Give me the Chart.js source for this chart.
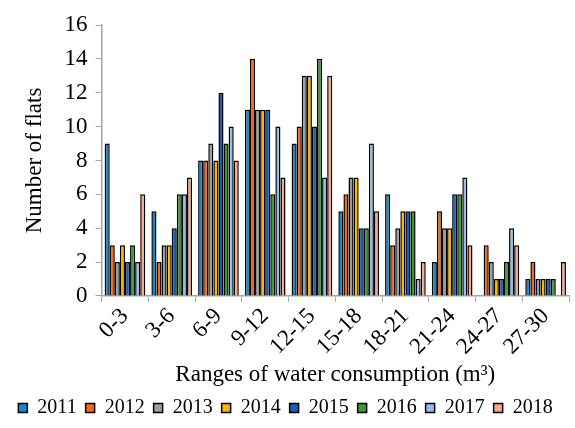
<!DOCTYPE html>
<html>
<head>
<meta charset="utf-8">
<script src="https://cdn.jsdelivr.net/npm/chart.js@4/dist/chart.umd.min.js"></script>
<style>
  html, body { margin: 0; padding: 0; background: #fff; }
  #wrap { width: 575px; height: 428px; }
</style>
</head>
<body>
<div id="wrap"><canvas id="chart" width="575" height="428"></canvas></div>
<script>
// categories (ranges of water consumption, m3)
const ranges = ['0-3', '3-6', '6-9', '9-12', '12-15', '15-18', '18-21', '21-24', '24-27', '27-30'];

// number of flats per year
const y2011 = [9, 5, 8, 11, 9, 5, 6, 2, 0, 1];
const y2012 = [3, 2, 8, 14, 10, 6, 3, 5, 3, 2];
const y2013 = [2, 3, 9, 11, 13, 7, 4, 4, 2, 1];
const y2014 = [3, 3, 8, 11, 13, 7, 5, 4, 1, 1];
const y2015 = [2, 4, 12, 11, 10, 4, 5, 6, 1, 1];
const y2016 = [3, 6, 9, 6, 14, 4, 5, 6, 2, 1];
const y2017 = [2, 6, 10, 10, 7, 9, 1, 7, 4, 0];
const y2018 = [6, 7, 8, 7, 13, 5, 2, 3, 3, 2];

const years = ['2011', '2012', '2013', '2014', '2015', '2016', '2017', '2018'];
const series = [y2011, y2012, y2013, y2014, y2015, y2016, y2017, y2018];
const colors = [
    '#1b86c4', // 2011
    '#f06a1c', // 2012
    '#9c9c9c', // 2013
    '#ffb300', // 2014
    '#1460b4', // 2015
    '#3a9a34', // 2016
    '#92bfe8', // 2017
    '#f9a98a'  // 2018
];

const serif = "'Liberation Serif', 'DejaVu Serif', serif";
const axisGrey = '#a6a6a6';

new Chart(document.getElementById('chart'), {
    type: 'bar',
    data: {
        labels: ranges,
        datasets: series.map((vals, i) => ({
            label: years[i],
            data: vals,
            backgroundColor: colors[i],
            borderColor: '#000',
            borderWidth: 1.5,
            borderSkipped: 'bottom',
            categoryPercentage: 0.87,
            barPercentage: 1.0
        }))
    },
    options: {
        responsive: false,
        animation: false,
        layout: { padding: { left: 2, right: 6, top: 25, bottom: 0 } },
        plugins: {
            legend: {
                position: 'bottom',
                labels: {
                    color: '#000',
                    font: { family: serif, size: 20 },
                    boxWidth: 9,
                    boxHeight: 9,
                    padding: 9
                }
            },
            tooltip: { enabled: false }
        },
        scales: {
            x: {
                grid: {
                    display: true,
                    offset: true,
                    drawOnChartArea: false,
                    color: axisGrey,
                    tickLength: 6
                },
                border: { color: axisGrey, width: 1.5 },
                ticks: {
                    color: '#000',
                    font: { family: serif, size: 23 },
                    minRotation: 45,
                    maxRotation: 45,
                    autoSkip: false,
                    padding: 1
                },
                title: {
                    display: true,
                    text: 'Ranges of water consumption (m³)',
                    color: '#000',
                    font: { family: serif, size: 23 },
                    padding: { top: 0, bottom: 0 }
                }
            },
            y: {
                min: 0,
                max: 16,
                grid: {
                    display: true,
                    drawOnChartArea: false,
                    color: axisGrey,
                    tickLength: 6
                },
                border: { color: axisGrey, width: 1.5 },
                ticks: {
                    stepSize: 2,
                    autoSkip: false,
                    color: '#000',
                    font: { family: serif, size: 23 },
                    padding: 8
                },
                title: {
                    display: true,
                    text: 'Number of flats',
                    color: '#000',
                    font: { family: serif, size: 23 },
                    padding: { top: 19, bottom: 8 }
                }
            }
        }
    }
});
</script>
</body>
</html>
